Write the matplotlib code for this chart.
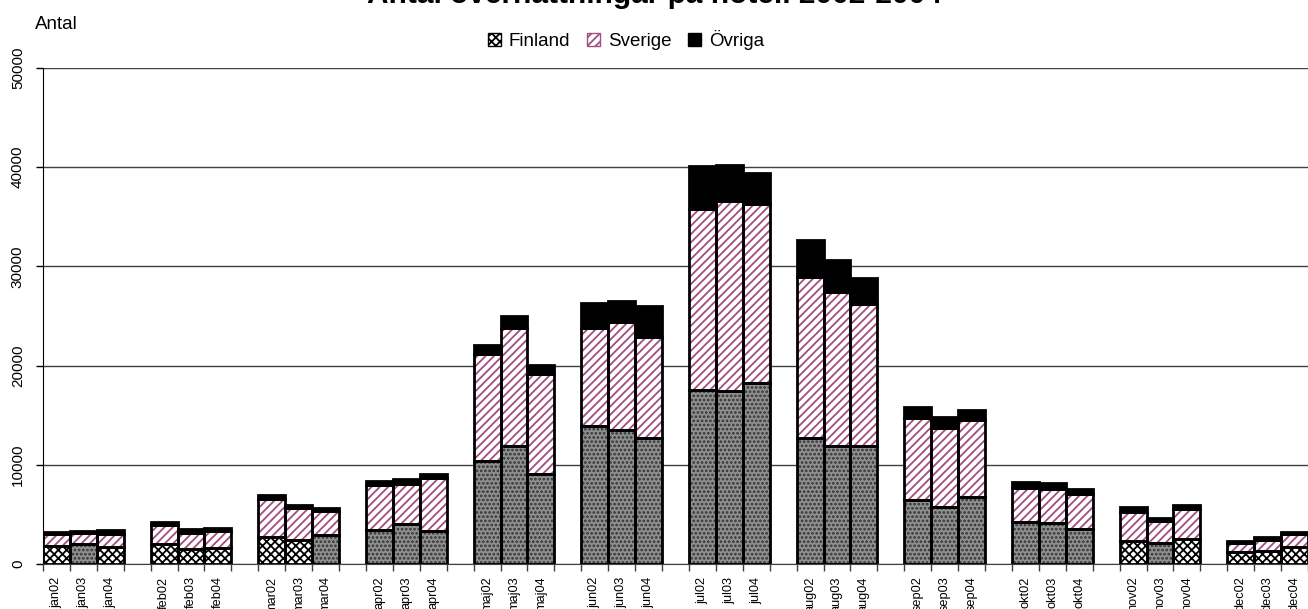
import numpy as np
import matplotlib.pyplot as plt
from matplotlib.patches import Patch

plt.rcParams['font.family'] = ['Liberation Sans', 'DejaVu Sans']
plt.rcParams['hatch.linewidth'] = 1.3

months = ['jan', 'feb', 'mar', 'apr', 'maj', 'jun', 'jul', 'aug', 'sep', 'okt', 'nov', 'dec']
years = ['02', '03', '04']
labels = [m + y for m in months for y in years]

# antal övernattningar per kategori
finland = [1830, 2000, 1670, 2000, 1470, 1570, 2680, 2410, 2910, 3410, 4010, 3310,
           10360, 11940, 9030, 13900, 13550, 12700, 17500, 17450, 18290, 12710, 11870, 11870,
           6450, 5770, 6710, 4230, 4160, 3490, 2350, 2150, 2550, 1240, 1340, 1740]
sverige = [1150, 1080, 1370, 1910, 1670, 1710, 3910, 3240, 2440, 4510, 4080, 5350,
           10800, 11830, 10100, 9910, 10890, 10170, 18280, 19160, 17990, 16270, 15500, 14360,
           8280, 7890, 7790, 3390, 3360, 3530, 2850, 2210, 2960, 840, 1080, 1250]
ovriga = [260, 260, 370, 330, 340, 330, 330, 340, 340, 400, 440, 440,
          880, 1200, 970, 2510, 2040, 3180, 4320, 3590, 3150, 3640, 3240, 2640,
          1050, 1170, 1010, 610, 670, 500, 510, 300, 460, 240, 270, 260]

# staplar som i originalet ritas med grovt rutmönster
grovt = ['jan02', 'jan04', 'feb02', 'feb03', 'feb04', 'mar02', 'mar03',
         'nov02', 'nov04', 'dec02', 'dec03', 'dec04']

purple = '#a34d80'
x = np.arange(len(labels)) + np.arange(len(labels)) // 3
finland = np.array(finland)
sverige = np.array(sverige)
ovriga = np.array(ovriga)

fig = plt.figure(figsize=(13.08, 6.09), dpi=100)
ax = fig.add_axes([43 / 1308, 1 - 564 / 609, 1 - 43 / 1308, (564 - 68) / 609])

# Finland
for xi, lab, v in zip(x, labels, finland):
    if lab in grovt:
        ax.bar(xi, v, width=1.0, color='white', hatch='xxxx', edgecolor='black', linewidth=0, zorder=2)
    else:
        ax.bar(xi, v, width=1.0, color='#8f8f8f', hatch='....', edgecolor='#333333', linewidth=0, zorder=2)
ax.bar(x, finland, width=1.0, fill=False, edgecolor='black', linewidth=2, zorder=3)

# Sverige
ax.bar(x, sverige, bottom=finland, width=1.0, color='white', hatch='////',
       edgecolor=purple, linewidth=0, zorder=2)
ax.bar(x, sverige, bottom=finland, width=1.0, fill=False, edgecolor='black', linewidth=2, zorder=3)

# Övriga
ax.bar(x, ovriga, bottom=finland + sverige, width=1.0, color='black',
       edgecolor='black', linewidth=2, zorder=3)

ax.set_xlim(-0.5, x[-1] + 0.5)
ax.set_ylim(0, 50000)
ax.set_yticks(range(0, 50001, 10000))
ax.yaxis.grid(True, color='#404040', linewidth=1)
ax.set_axisbelow(True)
ax.tick_params(axis='y', labelrotation=90, labelsize=11, length=5, width=1, pad=8)
for t in ax.get_yticklabels():
    t.set_va('center')

ax.set_xticks(x, labels, rotation=90, fontsize=9.2)
ax.tick_params(axis='x', which='major', length=0, pad=9)
ax.set_xticks(np.arange(-0.5, x[-1] + 1, 1), minor=True)
ax.tick_params(axis='x', which='minor', length=5, width=1, color='#404040')

for s in ['top', 'right']:
    ax.spines[s].set_visible(False)
ax.spines['left'].set_color('black')
ax.spines['bottom'].set_color('#404040')

fig.text(654 / 1308, 1 - 3 / 609, 'Antal övernattningar på hotell 2002-2004',
         ha='center', va='baseline', fontsize=21.5, fontweight='bold')
fig.text(35 / 1308, 1 - 29 / 609, 'Antal', ha='left', va='baseline', fontsize=13.5)

handles = [Patch(facecolor='white', hatch='xxxx', edgecolor='black', linewidth=1),
           Patch(facecolor='white', hatch='////', edgecolor=purple, linewidth=1),
           Patch(facecolor='black', edgecolor='black', linewidth=1)]
fig.legend(handles, ['Finland', 'Sverige', 'Övriga'], loc='center', ncol=3,
           bbox_to_anchor=(626 / 1308, 1 - 40 / 609), frameon=False, fontsize=13.5,
           handlelength=0.7, handleheight=0.7, handletextpad=0.4, columnspacing=0.9)

fig.savefig('out.png', dpi=100)
